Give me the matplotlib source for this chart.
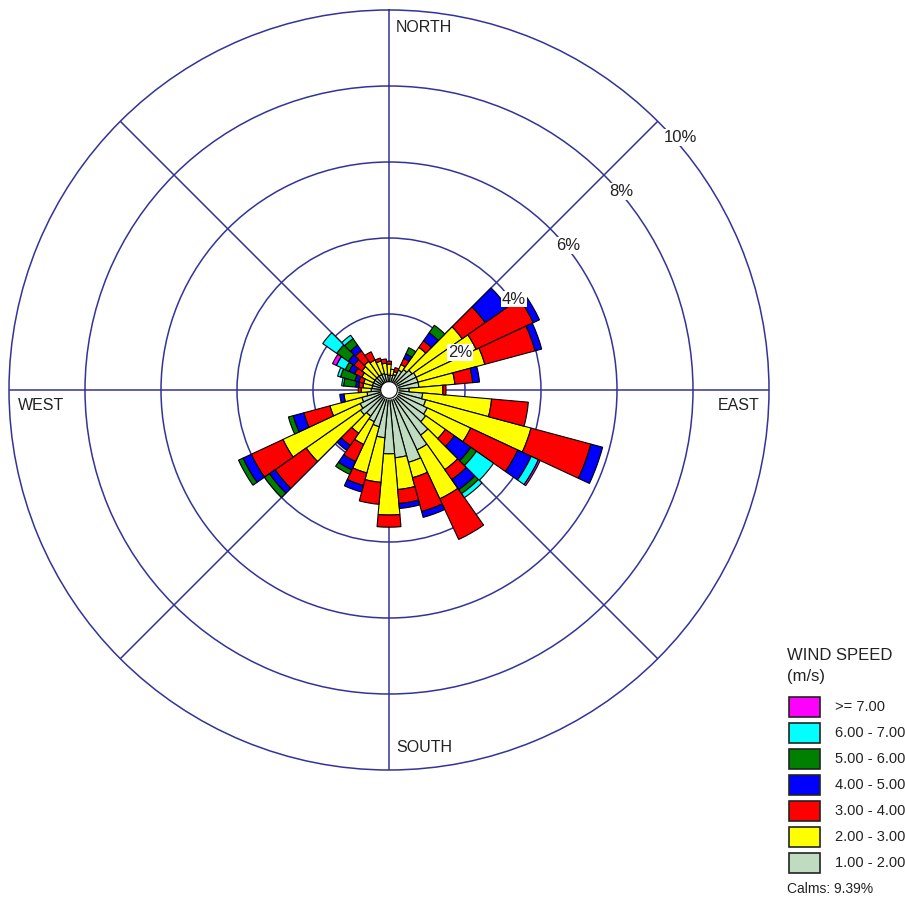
import numpy as np
import matplotlib.pyplot as plt
from matplotlib.patches import Rectangle

plt.rcParams['font.family'] = ['Liberation Sans', 'DejaVu Sans']

# direction sectors (degrees from north, clockwise), 10 degree bins
directions = np.arange(0, 360, 10)

# frequency (%) of each wind speed class per direction sector
spd_1_2 = [0.39, 0.39, 0.42, 0.58, 0.66, 0.74, 0.79, 0.79, 0.79, 0.53, 0.89, 1.00,
           1.11, 1.18, 1.45, 1.74, 1.97, 1.79, 1.68, 1.26, 1.00, 0.92, 0.84, 0.92,
           0.84, 0.74, 0.58, 0.47, 0.45, 0.45, 0.45, 0.45, 0.45, 0.45, 0.45, 0.42]
spd_2_3 = [0.29, 0.16, 0.08, 0.16, 0.71, 1.61, 1.74, 1.82, 0.95, 0.89, 1.82, 2.87,
           1.26, 0.63, 1.11, 1.42, 0.42, 0.84, 1.61, 1.18, 1.26, 0.66, 0.55, 1.74,
           2.24, 0.87, 0.61, 0.26, 0.24, 0.24, 0.34, 0.42, 0.47, 0.42, 0.34, 0.29]
spd_3_4 = [0.08, 0.00, 0.11, 0.18, 0.21, 0.74, 1.66, 1.37, 0.47, 0.08, 0.97, 1.63,
           1.37, 0.29, 0.32, 1.18, 0.92, 0.37, 0.32, 0.58, 0.34, 0.50, 0.39, 1.00,
           0.92, 0.71, 0.00, 0.08, 0.11, 0.13, 0.21, 0.26, 0.34, 0.24, 0.08, 0.11]
spd_4_5 = [0.00, 0.00, 0.00, 0.13, 0.26, 0.71, 0.18, 0.18, 0.18, 0.00, 0.00, 0.32,
           0.39, 0.53, 0.32, 0.00, 0.16, 0.13, 0.00, 0.00, 0.18, 0.24, 0.16, 0.18,
           0.24, 0.29, 0.11, 0.00, 0.08, 0.11, 0.16, 0.18, 0.18, 0.00, 0.00, 0.00]
spd_5_6 = [0.00, 0.00, 0.00, 0.18, 0.24, 0.00, 0.00, 0.00, 0.00, 0.00, 0.00, 0.00,
           0.00, 0.18, 0.13, 0.00, 0.00, 0.00, 0.00, 0.00, 0.00, 0.13, 0.00, 0.16,
           0.13, 0.13, 0.00, 0.00, 0.32, 0.39, 0.11, 0.37, 0.21, 0.00, 0.00, 0.00]
spd_6_7 = [0.00, 0.00, 0.00, 0.00, 0.00, 0.00, 0.00, 0.00, 0.00, 0.00, 0.00, 0.00,
           0.21, 0.55, 0.13, 0.00, 0.00, 0.00, 0.00, 0.00, 0.00, 0.00, 0.00, 0.00,
           0.00, 0.00, 0.00, 0.00, 0.05, 0.08, 0.26, 0.45, 0.11, 0.00, 0.00, 0.00]
spd_7_up = [0.00, 0.00, 0.00, 0.00, 0.00, 0.00, 0.00, 0.00, 0.00, 0.00, 0.00, 0.00,
            0.05, 0.00, 0.00, 0.00, 0.00, 0.00, 0.00, 0.00, 0.00, 0.00, 0.00, 0.00,
            0.00, 0.00, 0.00, 0.00, 0.00, 0.00, 0.11, 0.00, 0.00, 0.00, 0.00, 0.00]

classes = [spd_1_2, spd_2_3, spd_3_4, spd_4_5, spd_5_6, spd_6_7, spd_7_up]
class_labels = ['1.00 - 2.00', '2.00 - 3.00', '3.00 - 4.00', '4.00 - 5.00',
                '5.00 - 6.00', '6.00 - 7.00', '>= 7.00']
class_colors = ['#c0dcc0', '#ffff00', '#ff0000', '#0000ff',
                '#008000', '#00ffff', '#ff00ff']
ring_levels = [2, 4, 6, 8, 10]
calms = 9.39

grid_col = '#333399'
txt_col = '#222222'

fig = plt.figure(figsize=(9.05, 8.97), dpi=100)
ax = fig.add_axes([9 / 905, 127 / 897, 760 / 905, 760 / 897], projection='polar')
ax.set_theta_zero_location('N')
ax.set_theta_direction(-1)
ax.set_ylim(0, 10)
ax.set_axisbelow(True)
ax.set_rgrids([2, 4, 6, 8], labels=[])
ax.set_thetagrids(np.arange(0, 360, 45), labels=[])
ax.grid(True, color=grid_col, linewidth=1.1)
ax.spines['polar'].set_color(grid_col)
ax.spines['polar'].set_linewidth(1.1)
ax.tick_params(length=0)

theta = np.radians(directions)
width = np.radians(10)
bottom = np.zeros(len(directions))
for vals, col in zip(classes, class_colors):
    vals = np.array(vals)
    m = vals > 0
    ax.bar(theta[m], vals[m], width=width, bottom=bottom[m], color=col,
           edgecolor='black', linewidth=0.8, zorder=2)
    bottom += vals

# calms circle in the middle
t = np.linspace(0, 2 * np.pi, 200)
ax.fill_between(t, 0, 0.22, color='white', zorder=3)
ax.plot(t, np.full_like(t, 0.22), color='black', linewidth=0.8, zorder=3)

# ring labels along the NE diagonal
for r in ring_levels:
    ax.annotate(f'{r}%', xy=(np.radians(45), r), xytext=(4, -6.5),
                textcoords='offset points', ha='left', va='top', fontsize=12,
                color=txt_col, zorder=6, annotation_clip=False,
                bbox=dict(facecolor='white', edgecolor='none', pad=0.6))

# compass labels
ax.annotate('NORTH', xy=(0, 10), xytext=(5, -7), textcoords='offset points',
            ha='left', va='top', fontsize=11.5, color=txt_col, annotation_clip=False)
ax.annotate('SOUTH', xy=(np.pi, 10), xytext=(5, 11), textcoords='offset points',
            ha='left', va='bottom', fontsize=11.5, color=txt_col, annotation_clip=False)
ax.annotate('EAST', xy=(np.pi / 2, 10), xytext=(-6.5, -5.5), textcoords='offset points',
            ha='right', va='top', fontsize=11.5, color=txt_col, annotation_clip=False)
ax.annotate('WEST', xy=(3 * np.pi / 2, 10), xytext=(6.5, -5.5), textcoords='offset points',
            ha='left', va='top', fontsize=11.5, color=txt_col, annotation_clip=False)

# legend block, laid out in pixel units
lax = fig.add_axes([0, 0, 1, 1])
lax.set_xlim(0, 905)
lax.set_ylim(897, 0)
lax.axis('off')
lax.text(787, 655, 'WIND SPEED', fontsize=12, color=txt_col, va='center', ha='left')
lax.text(787, 676, '(m/s)', fontsize=12, color=txt_col, va='center', ha='left')
for i, (lab, col) in enumerate(zip(class_labels[::-1], class_colors[::-1])):
    yc = 707 + i * 26
    lax.add_patch(Rectangle((789, yc - 10), 31, 20, facecolor=col,
                            edgecolor='#222222', linewidth=1.2))
    lax.text(835, yc, lab, fontsize=10.5, color=txt_col, va='center', ha='left')
lax.text(787, 889, f'Calms: {calms:.2f}%', fontsize=10, color=txt_col,
         va='center', ha='left')

fig.savefig('out.png', dpi=100)
